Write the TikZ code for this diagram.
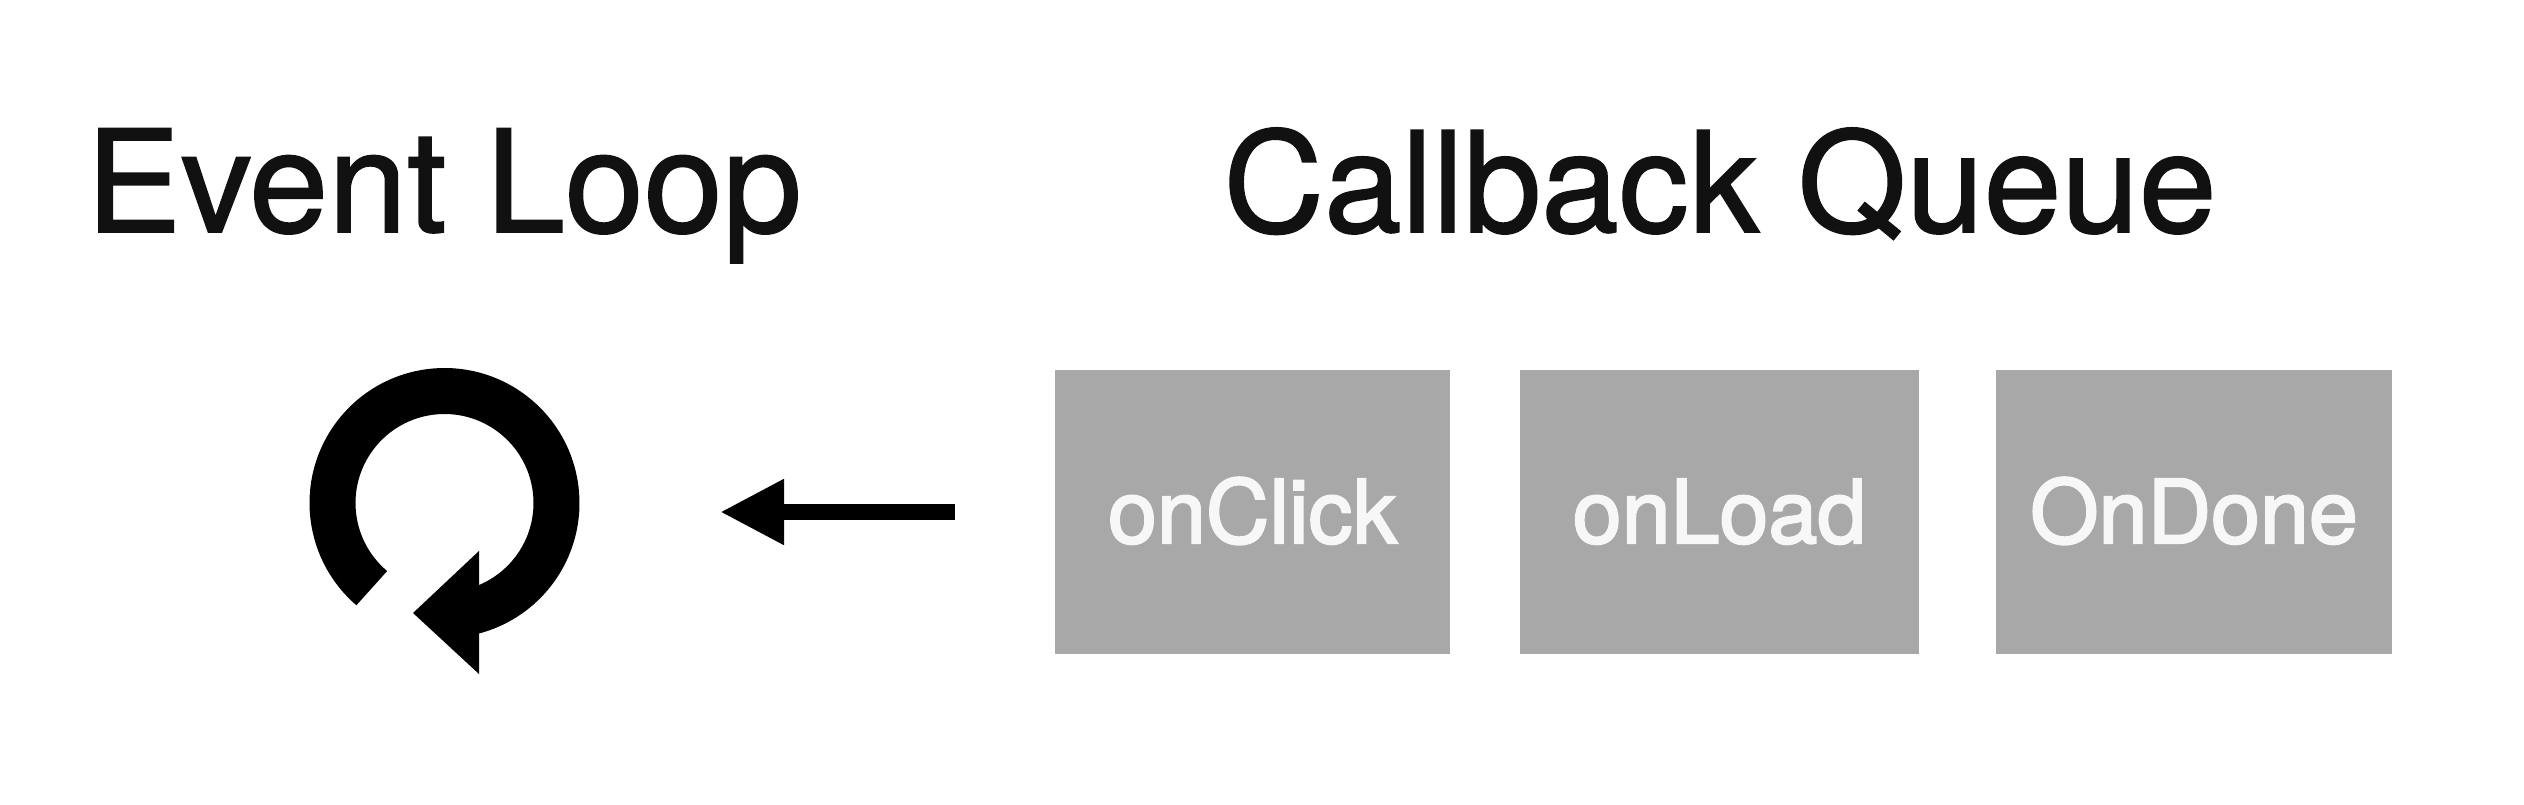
\documentclass[tikz,border=0pt]{standalone}
\usepackage{fontspec}
\setmainfont{TeX Gyre Heros}
\newfontfamily\heavytitle[FakeBold=1.2]{TeX Gyre Heros}
\newfontfamily\heavylabel[FakeBold=2.4]{TeX Gyre Heros}
\usetikzlibrary{arrows.meta}
\definecolor{boxgray}{HTML}{A8A8A8}
\definecolor{ink}{HTML}{111111}
\tikzset{
  x=1pt,y=1pt,
  title/.style={anchor=base,inner sep=0pt,text=ink},
  qbox/.style={fill=boxgray,draw=none,inner sep=0pt,minimum height=284pt,text=white!97!black,
    text height=80pt,text depth=18pt,font=\heavylabel\fontsize{88}{96}\selectfont},
  flow/.style={-{Triangle[length=64pt,width=62pt]},line width=15pt,draw=black,shorten <=100pt,shorten >=140pt}
}
\begin{document}
\begin{tikzpicture}
\useasboundingbox (0,0) rectangle (2524,804);
\fill[white] (0,0) rectangle (2524,804);
\node[title,font=\heavytitle\fontsize{142}{150}\selectfont] (evt) at (444,572) {Event Loop};
\node[title,font=\heavytitle\fontsize{139.5}{150}\selectfont] (cbq) at (1720,572) {Callback Queue};
\node[qbox,minimum width=395pt] (b1) at (1252.5,292) {onClick};
\node[qbox,minimum width=399pt] (b2) at (1719.5,292) {onLoad};
\node[qbox,minimum width=396pt] (b3) at (2194,292) {OnDone};
\node[circle,inner sep=0pt,minimum size=272pt] (ring) at (444,292) {};
\draw[line width=46pt,draw=black] ([shift={(229.5:112)}]444.5,301) arc[start angle=229.5,end angle=-85,radius=112];
\fill[black] (479,253) -- (413,191) -- (479,130) -- cycle;
\draw[flow] (b1.west) -- (ring.east);
\end{tikzpicture}
\end{document}
